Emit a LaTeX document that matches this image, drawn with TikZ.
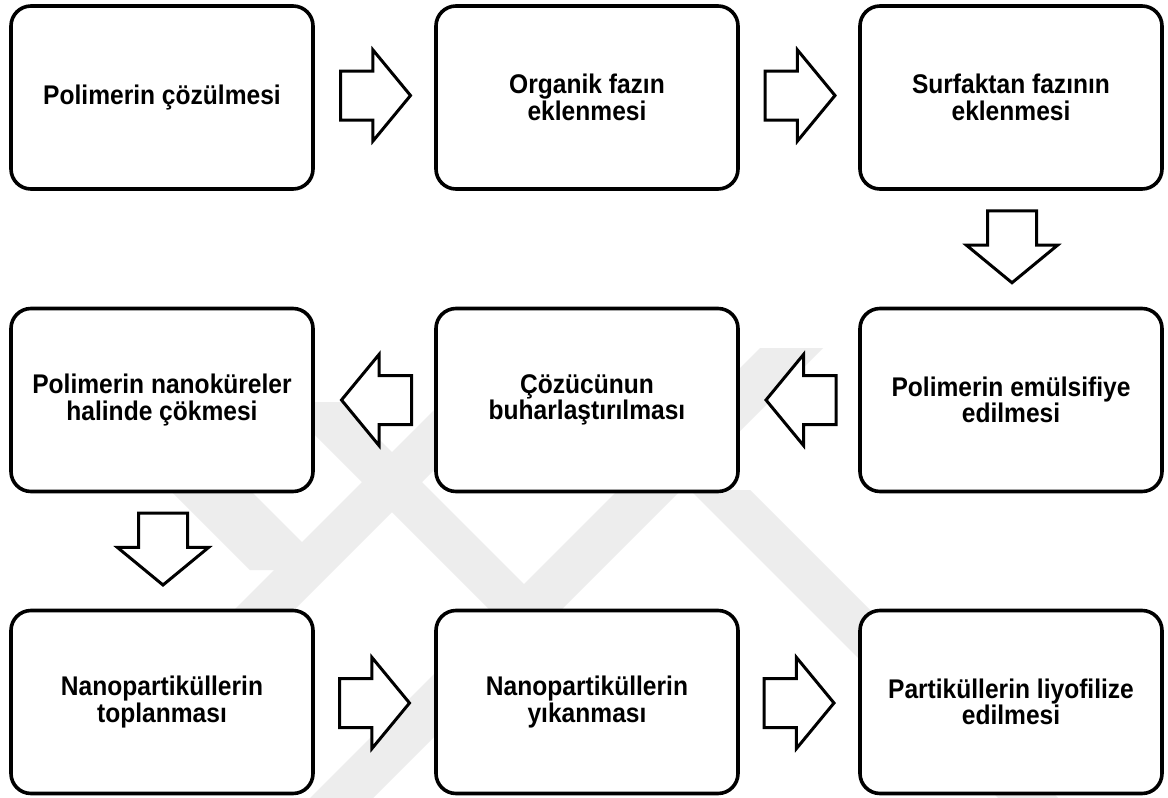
\documentclass[tikz,border=0pt]{standalone}
\usepackage{fontspec}
\newfontfamily\boxfont{Liberation Sans Bold}[FakeStretch=0.91]
\usetikzlibrary{shapes.arrows,calc}
\begin{document}
\begin{tikzpicture}[x=1pt,y=-1pt,
  stepbox/.style={draw=black, line width=3.6pt, rounded corners=20pt, fill=white,
    minimum width=302pt, minimum height=183pt, inner sep=0pt, align=center,
    font=\boxfont\fontsize{27pt}{26.5pt}\selectfont},
  blockarrow/.style={draw=black, line width=3pt, fill=white, single arrow,
    minimum height=70pt, outer sep=0pt, anchor=tail,
    single arrow head extend=21pt, single arrow tip angle=101},
  harrow/.style={blockarrow, inner xsep=0pt, inner ysep=23pt},
  varrow/.style={blockarrow, inner xsep=23pt, inner ysep=0pt, minimum height=72pt, shape border rotate=270},
  wm/.style={fill=black!7, draw=none}]
\useasboundingbox (0,0) rectangle (1168,798);
\fill[white] (0,0) rectangle (1168,798);
% faint watermark
\fill[wm] (760,348) -- (823,348) -- (373,798) -- (310,798) -- cycle;
\fill[wm] (690,490) -- (750,490) -- (1058,798) -- (998,798) -- cycle;
\fill[wm] (282,402) -- (342,402) -- (552,612) -- (492,612) -- cycle;
\fill[wm] (442,402) -- (502,402) -- (212,692) -- (152,692) -- cycle;
\fill[wm] (150,470) -- (230,470) -- (330,570) -- (250,570) -- cycle;
% boxes
\node[stepbox] (b1) at (162,97.5) {Polimerin çözülmesi};
\node[stepbox] (b2) at (587,97.5) {Organik fazın\\eklenmesi};
\node[stepbox] (b3) at (1011,97.5) {Surfaktan fazının\\eklenmesi};
\node[stepbox] (b4) at (1011,400) {Polimerin emülsifiye\\edilmesi};
\node[stepbox] (b5) at (587,400) {Çözücünun\\buharlaştırılması};
\node[stepbox] (b6) at (162,400) {Polimerin nanoküreler\\halinde çökmesi};
\node[stepbox] (b7) at (162,702) {Nanopartiküllerin\\toplanması};
\node[stepbox] (b8) at (587,702) {Nanopartiküllerin\\yıkanması};
\node[stepbox] (b9) at (1011,702) {Partiküllerin liyofilize\\edilmesi};
% block arrows between boxes
\node[harrow] (a12) at ($(b1.east)!0.5!(b2.west)+(-34,-2)$) {};
\node[harrow] (a23) at ($(b2.east)!0.5!(b3.west)+(-34,-2)$) {};
\node[varrow] (a34) at ($(b3.south)!0.5!(b4.north)+(1,-38)$) {};
\node[harrow, shape border rotate=180] (a45) at ($(b4.west)!0.5!(b5.east)+(37,0)$) {};
\node[harrow, shape border rotate=180] (a56) at ($(b5.west)!0.5!(b6.east)+(37,0)$) {};
\node[varrow] (a67) at ($(b6.south)!0.5!(b7.north)+(1,-38)$) {};
\node[harrow] (a78) at ($(b7.east)!0.5!(b8.west)+(-35,1)$) {};
\node[harrow] (a89) at ($(b8.east)!0.5!(b9.west)+(-35,1)$) {};
\end{tikzpicture}
\end{document}
